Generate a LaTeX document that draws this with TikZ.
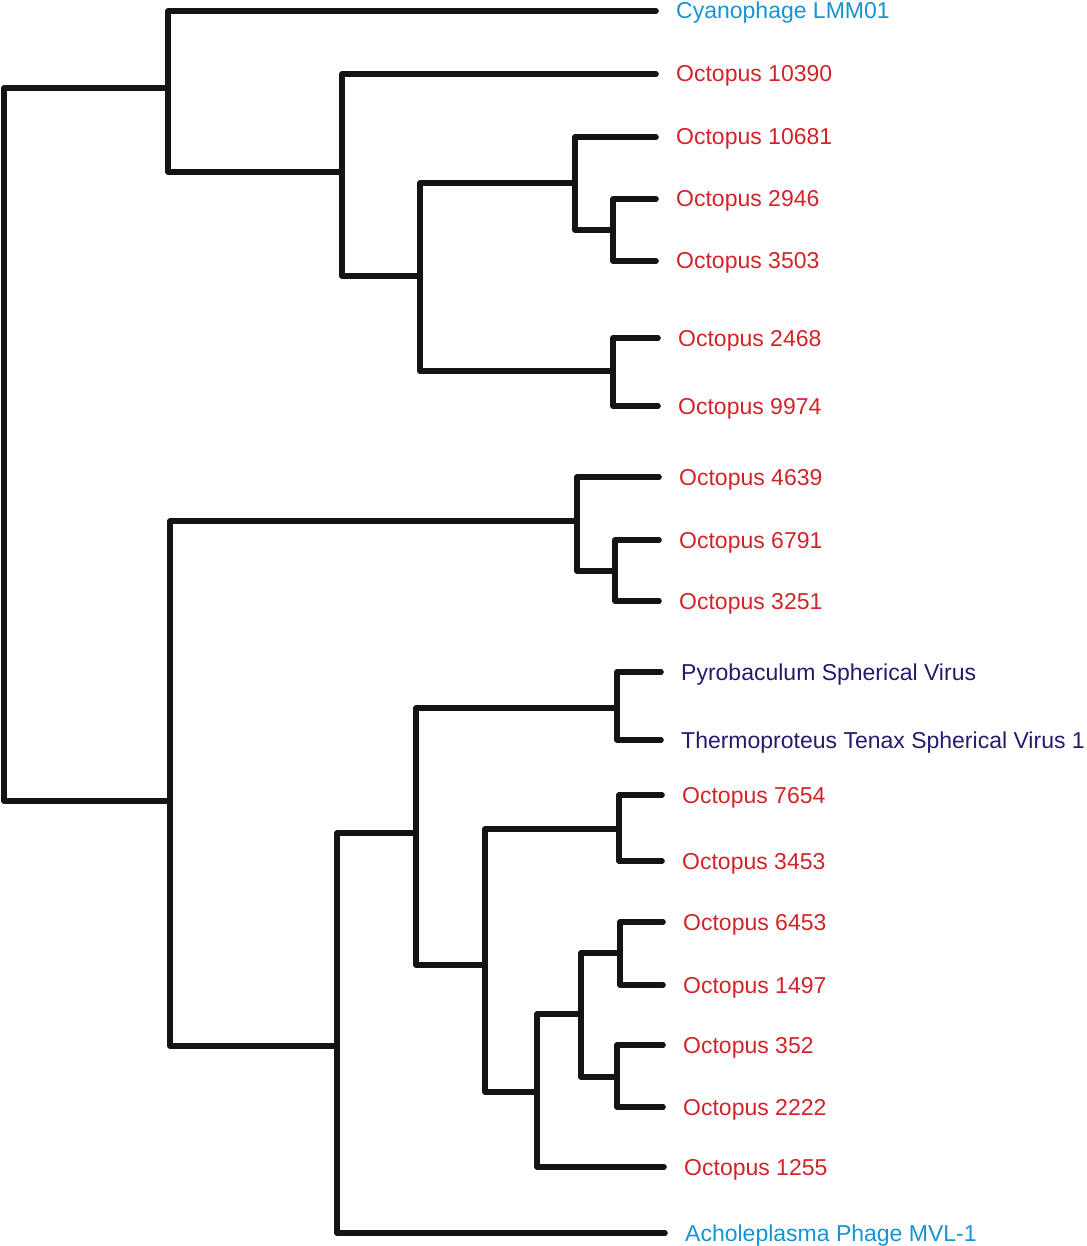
\documentclass[tikz,border=0pt]{standalone}
\usepackage{fontspec}
\setmainfont{Liberation Sans}
\usepackage{tikz}
\usetikzlibrary{positioning}

\definecolor{octred}{RGB}{210,36,40}
\definecolor{phageblue}{RGB}{20,148,214}
\definecolor{archnavy}{RGB}{34,28,108}

\tikzset{
  branch/.style={line width=5.6pt, line cap=round, line join=round, draw=black!92},
  leaf/.style={anchor=base west, inner sep=0pt, font=\fontsize{23pt}{27pt}\selectfont}
}

\begin{document}
\begin{tikzpicture}[x=1pt, y=-1pt]
  \useasboundingbox (0,0) rectangle (1086,1246);
  % leaves: name / y / tip x / colour / label
  \foreach \n/\y/\t/\c/\lab in {
      cyan/11/656/phageblue/Cyanophage LMM01,
      o10390/74/656/octred/Octopus 10390,
      o10681/137/656/octred/Octopus 10681,
      o2946/199/656/octred/Octopus 2946,
      o3503/261/656/octred/Octopus 3503,
      o2468/338/658/octred/Octopus 2468,
      o9974/406/658/octred/Octopus 9974,
      o4639/477/659/octred/Octopus 4639,
      o6791/540/659/octred/Octopus 6791,
      o3251/601/659/octred/Octopus 3251,
      pyro/672/661/archnavy/Pyrobaculum Spherical Virus,
      thermo/740/661/archnavy/Thermoproteus Tenax Spherical Virus 1,
      o7654/795/662/octred/Octopus 7654,
      o3453/861/662/octred/Octopus 3453,
      o6453/922/663/octred/Octopus 6453,
      o1497/985/663/octred/Octopus 1497,
      o352/1045/663/octred/Octopus 352,
      o2222/1107/663/octred/Octopus 2222,
      o1255/1167/664/octred/Octopus 1255,
      achole/1233/665/phageblue/Acholeplasma Phage MVL-1}
  {
    \coordinate (\n) at (\t,\y);
    \node[leaf, text=\c] (\n-lab) at (\t+20,\y+8) {\lab};
  }
  % internal nodes, placed where they join their parent
  \coordinate (root) at (4,444);
  \coordinate (nA) at (168,88);
  \coordinate (nB) at (342,172);
  \coordinate (nC) at (420,276);
  \coordinate (nD) at (575,183);
  \coordinate (nE) at (613,230);
  \coordinate (nF) at (613,371);
  \coordinate (nG) at (170,801);
  \coordinate (nH) at (577,521);
  \coordinate (nI) at (615,571);
  \coordinate (nJ) at (337,1046);
  \coordinate (nK) at (416,833);
  \coordinate (nL) at (617,708);
  \coordinate (nM) at (485,965);
  \coordinate (nN) at (619,829);
  \coordinate (nO) at (537,1092);
  \coordinate (nP) at (581,1014);
  \coordinate (nQ) at (620,953);
  \coordinate (nR) at (617,1077);
  % elbows parent -> child
  \foreach \p/\q in {root/nA, root/nG,
      nA/cyan, nA/nB, nB/o10390, nB/nC, nC/nD, nC/nF,
      nD/o10681, nD/nE, nE/o2946, nE/o3503, nF/o2468, nF/o9974,
      nG/nH, nG/nJ, nH/o4639, nH/nI, nI/o6791, nI/o3251,
      nJ/nK, nJ/achole, nK/nL, nK/nM, nL/pyro, nL/thermo,
      nM/nN, nM/nO, nN/o7654, nN/o3453, nO/nP, nO/o1255,
      nP/nQ, nP/nR, nQ/o6453, nQ/o1497, nR/o352, nR/o2222}
    \draw[branch] (\p) |- (\q);
\end{tikzpicture}
\end{document}
